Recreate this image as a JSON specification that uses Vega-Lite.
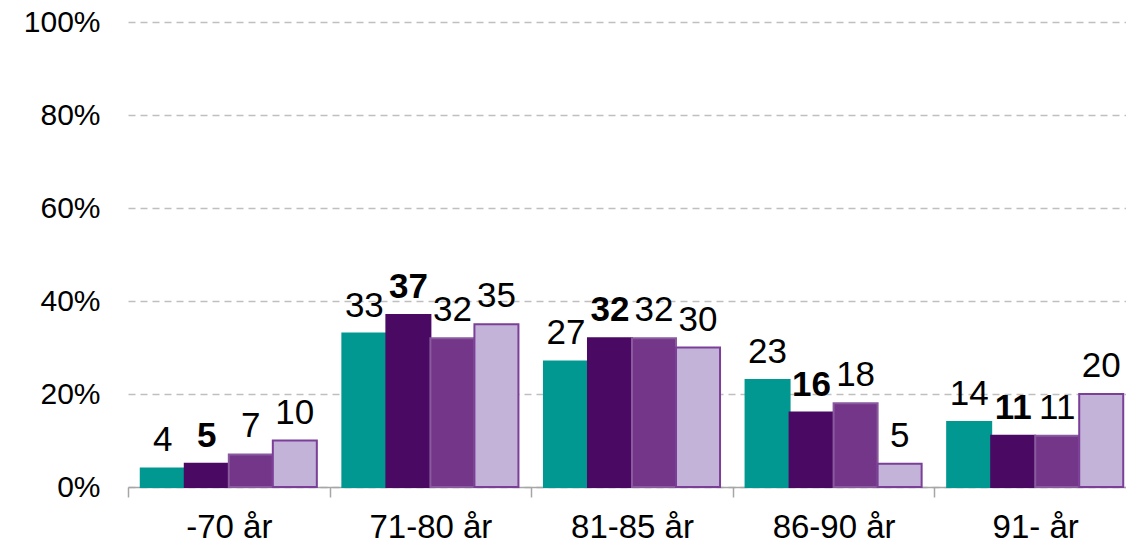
{
  "$schema": "https://vega.github.io/schema/vega-lite/v6.json",
  "width": 998,
  "height": 465,
  "autosize": {"type": "none"},
  "padding": {"left": 128, "top": 22, "right": 0, "bottom": 62},
  "background": "white",
  "config": {"view": {"stroke": null}, "font": "Liberation Sans"},
  "data": {
    "values": [
      {"age": "-70 år", "series": "A", "value": 4},
      {"age": "-70 år", "series": "B", "value": 5},
      {"age": "-70 år", "series": "C", "value": 7},
      {"age": "-70 år", "series": "D", "value": 10},
      {"age": "71-80 år", "series": "A", "value": 33},
      {"age": "71-80 år", "series": "B", "value": 37},
      {"age": "71-80 år", "series": "C", "value": 32},
      {"age": "71-80 år", "series": "D", "value": 35},
      {"age": "81-85 år", "series": "A", "value": 27},
      {"age": "81-85 år", "series": "B", "value": 32},
      {"age": "81-85 år", "series": "C", "value": 32},
      {"age": "81-85 år", "series": "D", "value": 30},
      {"age": "86-90 år", "series": "A", "value": 23},
      {"age": "86-90 år", "series": "B", "value": 16},
      {"age": "86-90 år", "series": "C", "value": 18},
      {"age": "86-90 år", "series": "D", "value": 5},
      {"age": "91- år", "series": "A", "value": 14},
      {"age": "91- år", "series": "B", "value": 11},
      {"age": "91- år", "series": "C", "value": 11},
      {"age": "91- år", "series": "D", "value": 20}
    ]
  },
  "encoding": {
    "x": {
      "field": "age", "type": "nominal", "sort": null,
      "scale": {"paddingInner": 0, "paddingOuter": 0, "range": [0, 1008]},
      "axis": {
        "title": null, "labelAngle": 0, "labelFontSize": 33, "labelColor": "#000000",
        "labelPadding": 14, "tickBand": "extent", "tickSize": 10, "tickColor": "#A6A6A6",
        "tickWidth": 1.5, "domainColor": "#A6A6A6", "domainWidth": 1.5, "grid": false
      }
    },
    "xOffset": {
      "field": "series", "type": "nominal",
      "scale": {"paddingOuter": 0.29, "paddingInner": 0}
    },
    "y": {
      "field": "value", "type": "quantitative",
      "scale": {"domain": [0, 100], "nice": false},
      "axis": {
        "title": null, "values": [0, 20, 40, 60, 80, 100], "labelExpr": "datum.value + '%'",
        "labelFontSize": 30, "labelColor": "#000000", "labelPadding": 28, "ticks": false,
        "domain": false, "grid": true, "gridColor": "#BFBFBF", "gridDash": [7, 5], "gridWidth": 1.5
      }
    }
  },
  "layer": [
    {
      "mark": {"type": "bar", "strokeWidth": 2},
      "encoding": {
        "color": {
          "field": "series", "type": "nominal", "legend": null,
          "scale": {"domain": ["A", "B", "C", "D"], "range": ["#009890", "#4A0A64", "#733688", "#C3B3D9"]}
        },
        "stroke": {
          "field": "series", "type": "nominal", "legend": null,
          "scale": {"domain": ["A", "B", "C", "D"], "range": ["#009890", "#4A0A64", "#8A5A9E", "#7B3F98"]}
        }
      }
    },
    {
      "transform": [{"filter": "datum.series != 'B'"}],
      "mark": {"type": "text", "baseline": "alphabetic", "dy": -17, "fontSize": 35, "color": "#000000"},
      "encoding": {"text": {"field": "value", "type": "quantitative"}}
    },
    {
      "transform": [{"filter": "datum.series == 'B'"}],
      "mark": {"type": "text", "baseline": "alphabetic", "dy": -17, "fontSize": 35, "fontWeight": "bold", "color": "#000000"},
      "encoding": {"text": {"field": "value", "type": "quantitative"}}
    }
  ]
}
